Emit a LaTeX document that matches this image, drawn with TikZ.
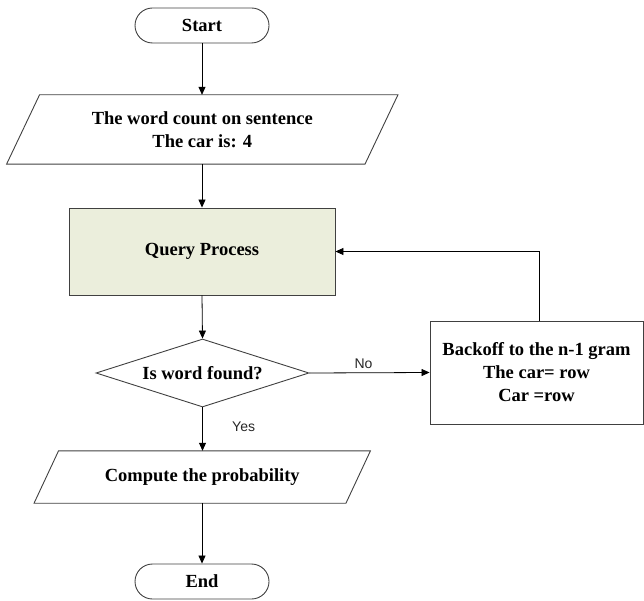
\documentclass[tikz,border=0pt]{standalone}
\usepackage{fontspec}
\setmainfont{Liberation Serif}
\newfontfamily\labelfont{Liberation Sans}
\usetikzlibrary{arrows.meta,shapes.geometric,calc}

\tikzset{
  x=1pt, y=-1pt,
  boxline/.style={draw=black!75, line width=0.9pt},
  flowtext/.style={font=\bfseries\fontsize{18.5}{23}\selectfont, align=center, text=black},
  terminal/.style={boxline, flowtext, rounded corners=17.5pt, minimum width=134pt, minimum height=35pt, inner sep=0pt},
  process/.style={boxline, flowtext, rectangle, inner sep=0pt},
  decision/.style={boxline, flowtext, diamond, aspect=3.13, inner sep=0pt, minimum width=213pt, minimum height=68pt},
  iobox/.style={flowtext, rectangle, inner sep=0pt},
  flow/.style={draw=black, line width=0.8pt, -{Triangle[length=8pt,width=7pt]}},
  edgelabel/.style={font=\labelfont\fontsize{14}{16}\selectfont, text=black!85}
}

\begin{document}
\begin{tikzpicture}
\useasboundingbox (0,0) rectangle (644,601);

% terminals
\node[terminal] (start) at (202,25.5) {Start};
\node[terminal] (end) at (202,581.5) {End};

% input parallelogram
\node[iobox, minimum width=324pt, minimum height=69pt] (input) at (202.25,129.5)
  {The word count on sentence\\The car is: 4};
\draw[boxline] ($(input.north west)+(-0.5,0)$) -- ($(input.north east)+(33.5,0)$)
  -- ($(input.south east)+(0.5,0)$) -- ($(input.south west)+(-33.5,0)$) -- cycle;

% query process
\node[process, fill={rgb,255:red,235;green,238;blue,220}, minimum width=266pt, minimum height=87pt]
  (query) at (202,251.5) {Query Process};

% decision
\node[decision] (found) at (202.5,373) {Is word found?};

% backoff box
\node[process, minimum width=213pt, minimum height=103pt] (backoff) at (536.5,372.5)
  {Backoff to the n-1 gram\\The car= row\\Car =row};

% output parallelogram
\node[iobox, minimum width=287pt, minimum height=52pt] (prob) at (202.25,477)
  {Compute the probability};
\draw[boxline] (prob.north west) -- ($(prob.north east)+(24.5,0)$)
  -- (prob.south east) -- ($(prob.south west)+(-24.5,0)$) -- cycle;

% connectors
\draw[flow] (start.south) -- (start.south |- input.north);
\draw[flow] (input.south -| query.north) -- (query.north);
\draw[flow] (query.south) -- (found.north);
\draw[flow] (found.east) -- node[edgelabel, above=0pt, pos=0.45] {No} (backoff.west);
\draw[flow] (found.south) -- node[edgelabel, right=26pt, pos=0.45] {Yes} (found.south |- prob.north);
\draw[flow] (prob.south -| end.north) -- (end.north);
\coordinate (loopup) at (539,251.5);
\draw[flow] (loopup |- backoff.north) -- (loopup) -- (query.east);
\end{tikzpicture}
\end{document}
